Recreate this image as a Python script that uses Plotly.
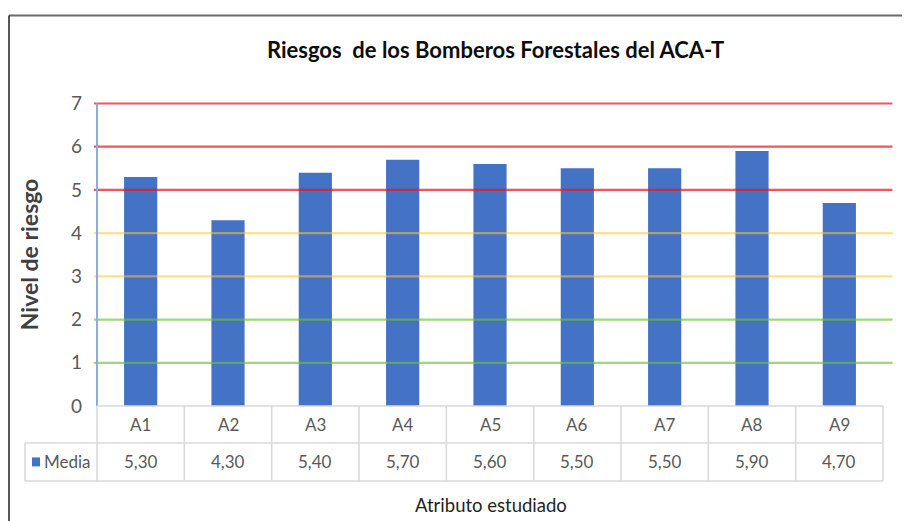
import plotly.graph_objects as go

# ---- data ----
categories = ["A1", "A2", "A3", "A4", "A5", "A6", "A7", "A8", "A9"]
media = [5.30, 4.30, 5.40, 5.70, 5.60, 5.50, 5.50, 5.90, 4.70]
series_name = "Media"
y_ticks = [0, 1, 2, 3, 4, 5, 6, 7]
risk_levels = [1, 2, 3, 4, 5, 6, 7]
level_colors = ["rgba(112,192,48,0.65)", "rgba(112,192,48,0.65)",
                "rgba(255,200,40,0.55)", "rgba(255,200,40,0.55)",
                "rgba(240,20,30,0.72)", "rgba(240,20,30,0.72)", "rgba(240,20,30,0.72)"]
title_text = "Riesgos  de los Bomberos Forestales del ACA-T"
y_title = "Nivel de riesgo"
x_title = "Atributo estudiado"

# page body has an 8px margin: lay out in window pixels and shift
OFF = 8
W, H = 910 - OFF, 521 - OFF
Y_MAX = 7.15
PLOT_L, PLOT_R, PLOT_B = 97, 883, 406          # window pixels
UNIT = (406 - 103) / 7.0
PLOT_T = PLOT_B - UNIT * Y_MAX
plot_w = PLOT_R - PLOT_L
plot_h = PLOT_B - PLOT_T
L = PLOT_L - OFF
T = PLOT_T - OFF
R = W - (PLOT_R - OFF)
B = H - (PLOT_B - OFF)

def px_x(px):
    return (px - PLOT_L) / plot_w

def px_y(py):
    return (PLOT_B - py) / plot_h

FONT = "Lato, 'Open Sans', sans-serif"
BAR_COLOR = "#4472C4"
GRID_GRAY = "#D9D9D9"

fig = go.Figure()
fig.add_trace(go.Bar(x=categories, y=media, name=series_name,
                     marker=dict(color=BAR_COLOR, line=dict(width=0)),
                     showlegend=False, hoverinfo="x+y"))

shapes = []
# threshold lines
for lv, col in zip(risk_levels, level_colors):
    shapes.append(dict(type="line", xref="paper", yref="y", x0=-0.004, x1=1.012,
                       y0=lv, y1=lv, line=dict(color=col, width=2.2), layer="above"))

# y axis line (light blue)
shapes.append(dict(type="line", xref="paper", yref="y", x0=0, x1=0, y0=0, y1=max(y_ticks),
                   line=dict(color="#8FAADC", width=2), layer="above"))

# data table
row1_bot = px_y(443)
row2_bot = px_y(481)
legend_left = px_x(25)
lw = 1.5
shapes.append(dict(type="line", xref="paper", yref="paper", x0=0, x1=1, y0=0, y1=0,
                   line=dict(color=GRID_GRAY, width=lw)))
shapes.append(dict(type="line", xref="paper", yref="paper", x0=legend_left, x1=1,
                   y0=row1_bot, y1=row1_bot, line=dict(color=GRID_GRAY, width=lw)))
shapes.append(dict(type="line", xref="paper", yref="paper", x0=legend_left, x1=1,
                   y0=row2_bot, y1=row2_bot, line=dict(color=GRID_GRAY, width=lw)))
shapes.append(dict(type="line", xref="paper", yref="paper", x0=legend_left, x1=legend_left,
                   y0=row1_bot, y1=row2_bot, line=dict(color=GRID_GRAY, width=lw)))
n = len(categories)
for i in range(n + 1):
    xb = i / n
    shapes.append(dict(type="line", xref="paper", yref="paper", x0=xb, x1=xb,
                       y0=0, y1=row2_bot, line=dict(color=GRID_GRAY, width=lw)))

# legend key square in table
key_x0, key_x1 = px_x(32), px_x(40)
row2_mid = (row1_bot + row2_bot) / 2
shapes.append(dict(type="rect", xref="paper", yref="paper", x0=key_x0, x1=key_x1,
                   y0=row2_mid - 4.5 / plot_h, y1=row2_mid + 4.5 / plot_h,
                   fillcolor=BAR_COLOR, line=dict(width=0)))

# outer frame (top and left)
shapes.append(dict(type="line", xref="paper", yref="paper", x0=px_x(9), x1=px_x(912),
                   y0=px_y(15), y1=px_y(15), line=dict(color="#6A6A6A", width=2)))
shapes.append(dict(type="line", xref="paper", yref="paper", x0=px_x(9), x1=px_x(9),
                   y0=px_y(15), y1=px_y(530), line=dict(color="#202020", width=1.5)))

def ann(x, y, text, size, color, **kw):
    d = dict(x=x, y=y, xref="paper", yref="paper", text=text, showarrow=False,
             xanchor="center", yanchor="middle",
             font=dict(family=FONT, size=size, color=color))
    d.update(kw)
    return d

annotations = []
row1_mid = (0 + row1_bot) / 2
for i, (c, v) in enumerate(zip(categories, media)):
    xc = (i + 0.5) / n
    annotations.append(ann(xc, row1_mid, c, 17, "#595959"))
    annotations.append(ann(xc, row2_mid, f"{v:.2f}".replace(".", ","), 17, "#595959"))
annotations.append(ann(px_x(42), row2_mid, series_name, 17, "#595959", xanchor="left"))
# axis titles
annotations.append(ann(px_x(29), px_y(254), f"<b>{y_title}</b>", 23, "#404040", textangle=-90))
annotations.append(ann(px_x(491), px_y(505), x_title, 18.5, "#1f1f1f"))
# chart title
annotations.append(ann(px_x(495), px_y(49), f"<b>{title_text}</b>", 22, "#0d0d0d"))

fig.update_layout(
    width=W, height=H,
    margin=dict(l=L, r=R, t=T, b=B, pad=0),
    paper_bgcolor="white", plot_bgcolor="white",
    bargap=0.62,
    shapes=shapes, annotations=annotations,
    xaxis=dict(showticklabels=False, showgrid=False, zeroline=False, showline=False,
               ticks="", fixedrange=True),
    yaxis=dict(range=[0, Y_MAX], tickvals=y_ticks, showgrid=False, zeroline=False,
               showline=False, ticks="", ticklabelstandoff=14,
               tickfont=dict(family=FONT, size=19, color="#595959")),
)

fig.write_html("out.html")
